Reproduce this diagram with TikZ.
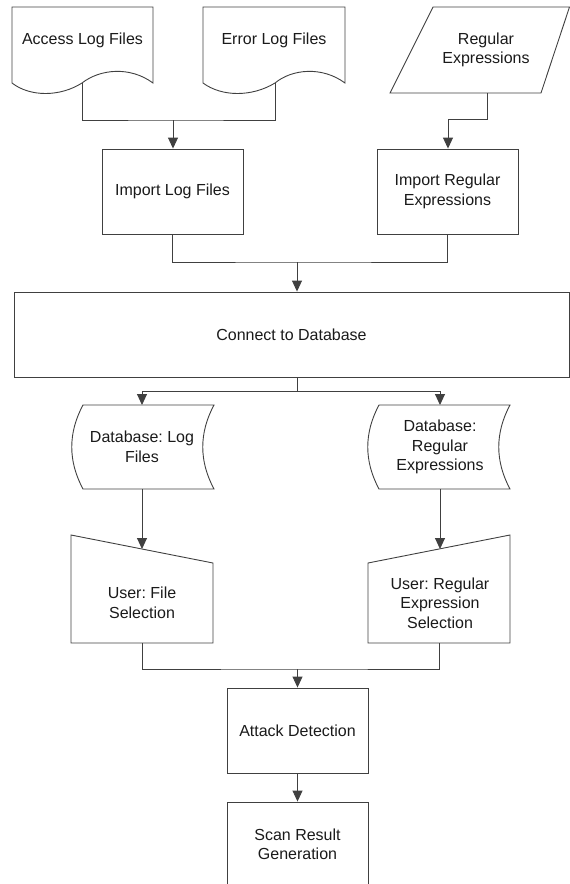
\documentclass[tikz,border=0pt]{standalone}
\usepackage{fontspec}
\setmainfont{Liberation Sans}
\usetikzlibrary{arrows.meta}
\definecolor{ln}{HTML}{404040}
\definecolor{tx}{HTML}{1A1A1A}
\frenchspacing
\begin{document}
\begin{tikzpicture}[x=1pt,y=-1pt,
  line/.style={draw=ln, line width=0.9pt},
  arr/.style={line, -{Triangle[width=10pt,length=11pt]}},
  lbl/.style={font=\fontsize{16}{19.5}\selectfont, text=tx, align=center, inner sep=0pt},
  box/.style={line, rectangle, minimum width=141pt, minimum height=85pt, inner sep=0pt, font=\fontsize{16}{19.5}\selectfont, text=tx, align=center}]
\useasboundingbox (0,0) rectangle (570,884);

% documents
\draw[line] (12,7) -- (153,7) -- (153,83) .. controls (130,66) and (100,69) .. (82,83) .. controls (60,97) and (30,97) .. (12,83) -- cycle;
\node[lbl] (acc) at (82.5,40) {Access Log Files};
\coordinate (accout) at (82,83);
\draw[line] (203,7) -- (345,7) -- (345,83) .. controls (322,66) and (292,69) .. (275,83) .. controls (252,97) and (222,97) .. (203,83) -- cycle;
\node[lbl] (err) at (274,40) {Error Log Files};
\coordinate (errout) at (275,83);

% parallelogram
\draw[line] (433,7) -- (569.5,7) -- (541,93) -- (390,93) -- cycle;
\node[lbl] (rex) at (486,50) {Regular\\Expressions};
\coordinate (rexout) at (487,93);

% import boxes
\node[box] (ilf) at (172.5,191.5) {Import Log Files};
\node[box] (irx) at (447.5,191.5) {Import Regular\\Expressions};

% connect
\node[box, minimum width=555pt] (conn) at (291.5,334.5) {Connect to Database};

% stored data
\draw[line] (83,405) -- (214,405) .. controls (199,433) and (199,461) .. (214,489) -- (83,489) .. controls (68,461) and (68,433) .. (83,405) -- cycle;
\node[lbl] (dbl) at (142,447) {Database: Log\\Files};
\draw[line] (379,405) -- (510,405) .. controls (495,433) and (495,461) .. (510,489) -- (379,489) .. controls (364,461) and (364,433) .. (379,405) -- cycle;
\node[lbl] (dbr) at (440,447) {Database:\\Regular\\Expressions};
\coordinate (dbltop) at (142,405);
\coordinate (dbrtop) at (440,405);
\coordinate (dblout) at (142,489);
\coordinate (dbrout) at (440,489);

% manual input
\draw[line] (71,535) -- (213,563) -- (213,643) -- (71,643) -- cycle;
\node[lbl] (usf) at (142,603) {User: File\\Selection};
\draw[line] (368,563) -- (510,535) -- (510,643) -- (368,643) -- cycle;
\node[lbl] (usr) at (440,603) {User: Regular\\Expression\\Selection};
\coordinate (usftop) at (142,549);
\coordinate (usrtop) at (440,549);
\coordinate (usfout) at (142,643);
\coordinate (usrout) at (439,643);

% bottom boxes
\node[box] (att) at (297.5,730.5) {Attack Detection};
\node[box] (scan) at (297.5,844.5) {Scan Result\\Generation};

% connectors
\coordinate (j1) at (173,120);
\draw[line] (accout) |- (j1) -| (errout);
\draw[arr] (j1) -- (j1 |- ilf.north);
\coordinate (j1b) at (448,119);
\draw[line] (rexout) |- (j1b);
\draw[arr] (j1b) -- (j1b |- irx.north);

\coordinate (j2) at (297,262);
\draw[line] (ilf.south) |- (j2) -| (irx.south);
\draw[arr] (j2) -- (j2 |- conn.north);

\coordinate (j3) at (297,391);
\draw[line] (j3 |- conn.south) -- (j3);
\draw[line] (j3) -- (j3 -| dbltop) (j3) -- (j3 -| dbrtop);
\draw[arr] (j3 -| dbltop) -- (dbltop);
\draw[arr] (j3 -| dbrtop) -- (dbrtop);

\draw[arr] (dblout) -- (usftop);
\draw[arr] (dbrout) -- (usrtop);

\coordinate (j4) at (297.5,669);
\draw[line] (usfout) |- (j4) -| (usrout);
\draw[arr] (j4) -- (att.north);
\draw[arr] (att.south) -- (scan.north);
\end{tikzpicture}
\end{document}
